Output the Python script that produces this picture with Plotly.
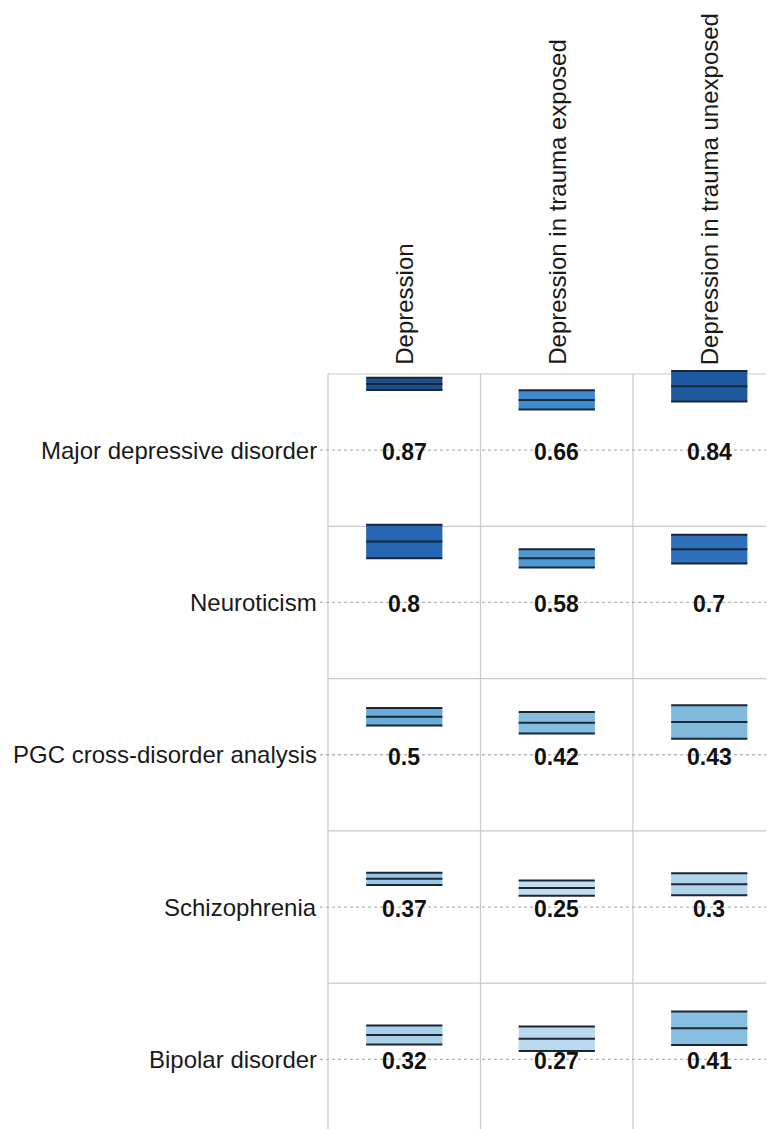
import plotly.graph_objects as go
from plotly.colors import sample_colorscale

# ---- data ----
traits = ["Major depressive disorder", "Neuroticism", "PGC cross-disorder analysis",
          "Schizophrenia", "Bipolar disorder"]
phenotypes = ["Depression", "Depression in trauma exposed", "Depression in trauma unexposed"]
# genetic correlation estimates (rows = traits, cols = phenotypes)
rg = [
    [0.87, 0.66, 0.84],
    [0.80, 0.58, 0.70],
    [0.50, 0.42, 0.43],
    [0.37, 0.25, 0.30],
    [0.32, 0.27, 0.41],
]
# standard errors (read from the box half-heights)
se = [
    [0.08, 0.125, 0.20],
    [0.22, 0.12, 0.19],
    [0.115, 0.14, 0.22],
    [0.08, 0.10, 0.145],
    [0.125, 0.16, 0.22],
]

# ---- styling ----
OFF = 8                       # page body margin
W, H = 774 - OFF, 1129 - OFF
PX_X = 152.5                  # px per column unit
PX_Y = 76.15                  # px per correlation unit
LEFT_PX = 328 - OFF           # panel left edge (figure coords)
TOP_PX = 374 - OFF            # panel top edge (figure coords)
ROW_STEP = 2.0                # each row spans [-1, 1]

x_lo = -0.5 - LEFT_PX / PX_X
x_hi = -0.5 + (W - LEFT_PX) / PX_X
y_hi = 1 + TOP_PX / PX_Y
y_lo = 1 - (H - TOP_PX) / PX_Y

fill_anchors = [
    (0.25, "#c2ddf0"),
    (0.32, "#aad0e9"),
    (0.41, "#86bfe0"),
    (0.50, "#69acd8"),
    (0.58, "#4c99d3"),
    (0.66, "#3d8ace"),
    (0.70, "#2c6fba"),
    (0.80, "#2766b2"),
    (0.84, "#1f5aa0"),
    (0.87, "#1d4f8e"),
]
VMIN, VMAX = fill_anchors[0][0], fill_anchors[-1][0]
fill_scale = [[(v - VMIN) / (VMAX - VMIN), col] for v, col in fill_anchors]

def fill_for(v):
    t = min(max((v - VMIN) / (VMAX - VMIN), 0), 1)
    return sample_colorscale(fill_scale, [t])[0]

FONT = "Arial, Liberation Sans, Helvetica, sans-serif"
GRID = "#c9c9c9"
EDGE = "#1b2636"

fig = go.Figure()
n_rows, n_cols = len(traits), len(phenotypes)

# panel grid
for r in range(n_rows + 1):
    y = 1 - ROW_STEP * r
    fig.add_trace(go.Scatter(x=[-0.5, n_cols - 0.5], y=[y, y], mode="lines",
                             line=dict(color=GRID, width=1.2), hoverinfo="skip", showlegend=False))
for c in range(n_cols + 1):
    x = c - 0.5
    fig.add_trace(go.Scatter(x=[x, x], y=[1, 1 - ROW_STEP * n_rows], mode="lines",
                             line=dict(color=GRID, width=1.2), hoverinfo="skip", showlegend=False))

# dotted zero lines
for r in range(n_rows):
    y0 = -ROW_STEP * r
    fig.add_trace(go.Scatter(x=[-0.5 - 8 / PX_X, n_cols - 0.5], y=[y0, y0], mode="lines",
                             line=dict(color="#b5b5b5", width=1.3, dash="dot"),
                             hoverinfo="skip", showlegend=False))

# boxes
HW = 0.25
for r in range(n_rows):
    base = -ROW_STEP * r
    for c in range(n_cols):
        v, s = rg[r][c], se[r][c]
        lo, hi = base + v - s, base + v + s
        fig.add_trace(go.Scatter(x=[c - HW, c + HW, c + HW, c - HW, c - HW],
                                 y=[lo, lo, hi, hi, lo], mode="lines", fill="toself",
                                 fillcolor=fill_for(v), line=dict(width=0),
                                 hoverinfo="skip", showlegend=False))
        for yy in (lo, base + v, hi):
            fig.add_trace(go.Scatter(x=[c - HW, c + HW], y=[yy, yy], mode="lines",
                                     line=dict(color=EDGE, width=2),
                                     hoverinfo="skip", showlegend=False))
        fig.add_annotation(x=c, y=base, text=f"<b>{v:g}</b>", showarrow=False,
                           xanchor="center", yanchor="middle", yshift=-2,
                           font=dict(family=FONT, size=23, color="#111111"))

# row labels
for r, name in enumerate(traits):
    fig.add_annotation(x=-0.5 - 9 / PX_X, y=-ROW_STEP * r, text=name, showarrow=False,
                       xanchor="right", yanchor="middle", yshift=0,
                       font=dict(family=FONT, size=24, color="#1a1a1a"))

# column labels
for c, name in enumerate(phenotypes):
    fig.add_annotation(x=c, y=1 + 7 / PX_Y, text=name, showarrow=False, textangle=-90,
                       xanchor="center", yanchor="bottom",
                       font=dict(family=FONT, size=24, color="#1a1a1a"))

fig.update_layout(
    width=W, height=H,
    margin=dict(l=0, r=0, t=0, b=0),
    paper_bgcolor="white", plot_bgcolor="white",
    xaxis=dict(range=[x_lo, x_hi], visible=False, fixedrange=True),
    yaxis=dict(range=[y_lo, y_hi], visible=False, fixedrange=True),
    showlegend=False,
)

fig.write_html("out.html")
